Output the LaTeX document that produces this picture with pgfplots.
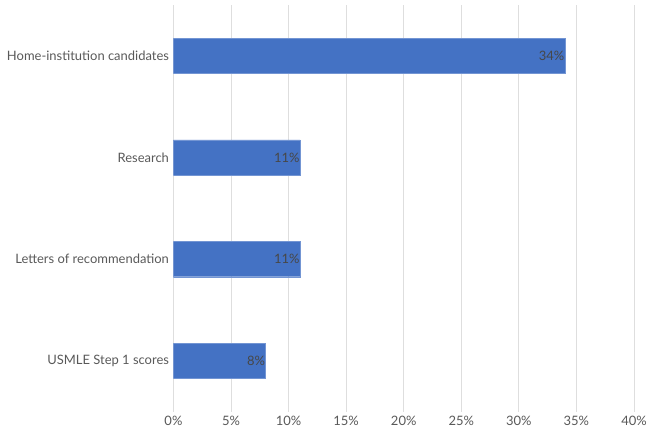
\documentclass[border=0pt]{standalone}
\usepackage{pgfplots}
\pgfplotsset{compat=1.18}
\usepackage{fontspec}
\setmainfont{Lato}
\definecolor{barblue}{HTML}{4472C4}
\definecolor{txtgray}{HTML}{595959}
\definecolor{gridgray}{HTML}{DEDEDE}
\begin{document}
\begin{tikzpicture}
\begin{axis}[
  scale only axis,
  width=462pt, height=408pt,
  xbar, bar width=0.345,
  xmin=0, xmax=40,
  ymin=-0.5, ymax=3.5,
  ytick={0,1,2,3},
  yticklabels={USMLE Step 1 scores, Letters of recommendation, Research, Home-institution candidates},
  xtick={0,5,...,40},
  xticklabel={\pgfmathprintnumber{\tick}\%},
  /pgf/number format/assume math mode=true,
  xmajorgrids, major grid style={gridgray, line width=0.8pt},
  axis line style={draw=none},
  major tick length=0pt,
  tick label style={font=\fontsize{13}{15}\selectfont, text=txtgray},
  yticklabel style={xshift=-1pt},
  xticklabel style={yshift=-1pt},
  nodes near coords={\pgfmathprintnumber{\pgfplotspointmeta}\%},
  nodes near coords style={anchor=east, font=\fontsize{13}{15}\selectfont, text=black!72, xshift=3pt},
  point meta=x,
]
\addplot[fill=barblue, draw=barblue!75!white, line width=0.4pt] coordinates {(8,0) (11,1) (11,2) (34,3)};
\end{axis}
\path[use as bounding box] (-174pt,-24pt) rectangle (476pt,413pt);
\end{tikzpicture}
\end{document}
